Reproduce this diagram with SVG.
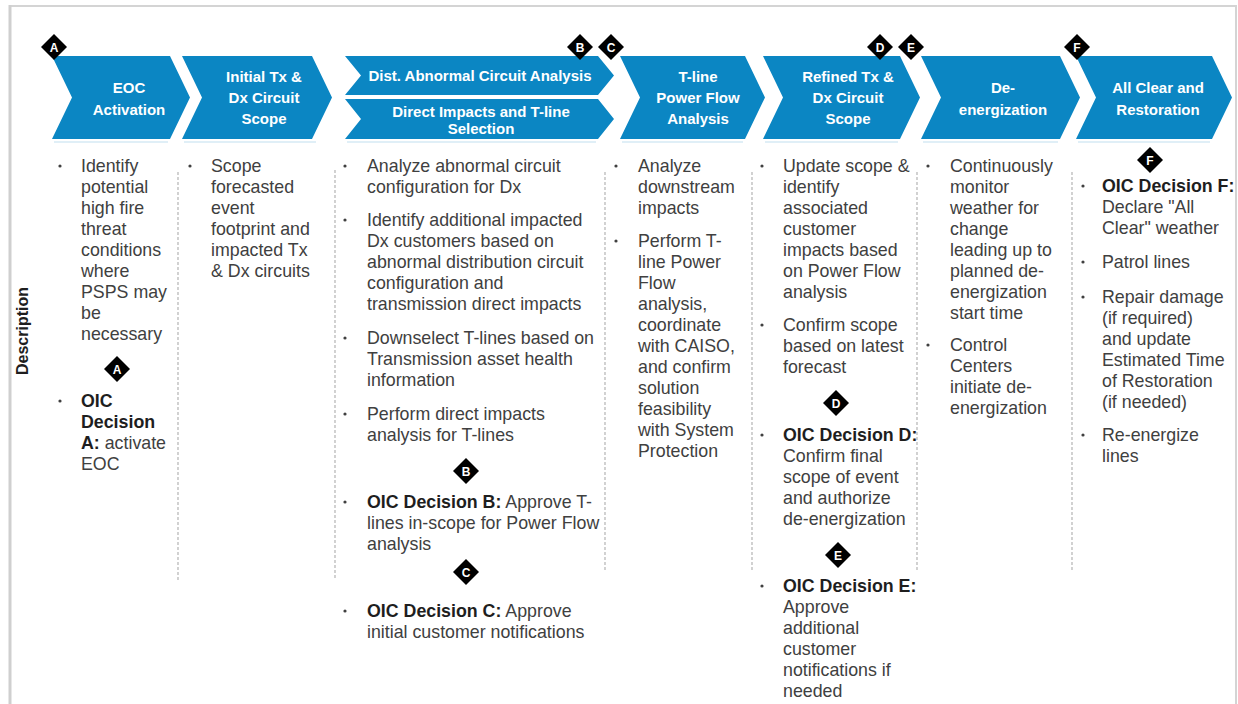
<svg xmlns="http://www.w3.org/2000/svg" width="1238" height="704" viewBox="0 0 1238 704">
<style>
.chev{fill:#0b86c3}
.ht{font-family:"Liberation Sans",Arial,sans-serif;font-weight:bold;font-size:15px;fill:#ffffff;text-anchor:middle}
.bt{font-family:"Liberation Sans",Arial,sans-serif;font-size:17.8px;fill:#404040}
.bd{font-weight:bold;fill:#1e1e1e}
.dl{font-family:"Liberation Sans",Arial,sans-serif;font-weight:bold;font-size:12px;fill:#ffffff;text-anchor:middle}
.sep{stroke:#b4b4b4;stroke-width:1.2;stroke-dasharray:3 2;fill:none}
.bul{fill:#404040}
.refl{stroke:#d6eaf5;stroke-width:1.5}
</style>
<defs>
<g id="dia"><polygon points="0,-13 13,0 0,13 -13,0" fill="#000"/></g>
</defs>
<rect x="0" y="0" width="1238" height="704" fill="#ffffff"/>
<g id="frame">
<line x1="10" y1="6" x2="1236" y2="6" stroke="#d4d4d4" stroke-width="2"/>
<line x1="10" y1="5" x2="10" y2="704" stroke="#cfcfcf" stroke-width="3"/>
<line x1="1236" y1="5" x2="1236" y2="704" stroke="#d4d4d4" stroke-width="2"/>
<text transform="translate(28,331) rotate(-90)" font-family="Liberation Sans,Arial,sans-serif" font-weight="bold" font-size="16" fill="#1e1e1e" text-anchor="middle">Description</text>
</g>

<g id="connectors">
<line class="sep" x1="178" y1="172" x2="178" y2="580"/>
<line class="sep" x1="335" y1="170" x2="335" y2="580"/>
<line class="sep" x1="605" y1="172" x2="605" y2="572"/>
<line class="sep" x1="752" y1="172" x2="752" y2="572"/>
<line class="sep" x1="917" y1="172" x2="917" y2="572"/>
<line class="sep" x1="1072" y1="172" x2="1072" y2="570"/>
</g>

<g id="step1">
<polygon class="chev" points="52,56 170,56 190,97.5 170,139 52,139 72,97.5"/>
<line class="refl" x1="54" y1="142" x2="168" y2="142"/>
<text class="ht" x="129" y="93">EOC</text>
<text class="ht" x="129" y="115">Activation</text>
<use href="#dia" x="54" y="47"/><text class="dl" x="54" y="51.5">A</text>
</g>

<g id="step2">
<polygon class="chev" points="182,56 312,56 332,97.5 312,139 182,139 202,97.5"/>
<line class="refl" x1="184" y1="142" x2="316" y2="142"/>
<text class="ht" x="264" y="82">Initial Tx &amp;</text>
<text class="ht" x="264" y="103">Dx Circuit</text>
<text class="ht" x="264" y="124">Scope</text>
</g>

<g id="step3a">
<polygon class="chev" points="345,56 598,56 614,75.5 598,95 345,95 361,75.5"/>
<text class="ht" x="480" y="81">Dist. Abnormal Circuit Analysis</text>
</g>
<g id="step3b">
<polygon class="chev" points="345,99 598,99 614,119 598,139 345,139 361,119"/>
<line class="refl" x1="347" y1="142" x2="596" y2="142"/>
<text class="ht" x="481" y="117">Direct Impacts and T-line</text>
<text class="ht" x="481" y="134">Selection</text>
<use href="#dia" x="580" y="47"/><text class="dl" x="580" y="51.5">B</text>
</g>

<g id="step4">
<polygon class="chev" points="620,56 745,56 765,97.5 745,139 620,139 640,97.5"/>
<line class="refl" x1="622" y1="142" x2="743" y2="142"/>
<text class="ht" x="698" y="82">T-line</text>
<text class="ht" x="698" y="103">Power Flow</text>
<text class="ht" x="698" y="124">Analysis</text>
<use href="#dia" x="611" y="47"/><text class="dl" x="611" y="51.5">C</text>
</g>

<g id="step5">
<polygon class="chev" points="763,56 900,56 920,97.5 900,139 763,139 783,97.5"/>
<line class="refl" x1="765" y1="142" x2="898" y2="142"/>
<text class="ht" x="848" y="82">Refined Tx &amp;</text>
<text class="ht" x="848" y="103">Dx Circuit</text>
<text class="ht" x="848" y="124">Scope</text>
<use href="#dia" x="880" y="47"/><text class="dl" x="880" y="51.5">D</text>
</g>

<g id="step6">
<polygon class="chev" points="921,56 1060,56 1080,97.5 1060,139 921,139 941,97.5"/>
<line class="refl" x1="923" y1="142" x2="1058" y2="142"/>
<text class="ht" x="1003" y="93">De-</text>
<text class="ht" x="1003" y="115">energization</text>
<use href="#dia" x="911" y="47"/><text class="dl" x="911" y="51.5">E</text>
</g>

<g id="step7">
<polygon class="chev" points="1076,56 1212,56 1232,97.5 1212,139 1076,139 1096,97.5"/>
<line class="refl" x1="1078" y1="142" x2="1210" y2="142"/>
<text class="ht" x="1158" y="93">All Clear and</text>
<text class="ht" x="1158" y="115">Restoration</text>
<use href="#dia" x="1077" y="47"/><text class="dl" x="1077" y="51.5">F</text>
</g>

<g id="desc1">
<circle class="bul" cx="60" cy="166" r="1.6"/>
<text class="bt" x="81" y="172">Identify</text>
<text class="bt" x="81" y="193">potential</text>
<text class="bt" x="81" y="214">high fire</text>
<text class="bt" x="81" y="235">threat</text>
<text class="bt" x="81" y="256">conditions</text>
<text class="bt" x="81" y="277">where</text>
<text class="bt" x="81" y="298">PSPS may</text>
<text class="bt" x="81" y="319">be</text>
<text class="bt" x="81" y="340">necessary</text>
<use href="#dia" x="117" y="369"/><text class="dl" x="117" y="373.5">A</text>
<circle class="bul" cx="60" cy="401" r="1.6"/>
<text class="bt bd" x="81" y="407">OIC</text>
<text class="bt bd" x="81" y="428">Decision</text>
<text class="bt" x="81" y="449"><tspan class="bd">A:</tspan> activate</text>
<text class="bt" x="81" y="470">EOC</text>
</g>

<g id="desc2">
<circle class="bul" cx="190" cy="166" r="1.6"/>
<text class="bt" x="211" y="172">Scope</text>
<text class="bt" x="211" y="193">forecasted</text>
<text class="bt" x="211" y="214">event</text>
<text class="bt" x="211" y="235">footprint and</text>
<text class="bt" x="211" y="256">impacted Tx</text>
<text class="bt" x="211" y="277">&amp; Dx circuits</text>
</g>

<g id="desc3">
<circle class="bul" cx="345" cy="166" r="1.6"/>
<text class="bt" x="367" y="172">Analyze abnormal circuit</text>
<text class="bt" x="367" y="193">configuration for Dx</text>
<circle class="bul" cx="345" cy="220" r="1.6"/>
<text class="bt" x="367" y="226">Identify additional impacted</text>
<text class="bt" x="367" y="247">Dx customers based on</text>
<text class="bt" x="367" y="268">abnormal distribution circuit</text>
<text class="bt" x="367" y="289">configuration and</text>
<text class="bt" x="367" y="310">transmission direct impacts</text>
<circle class="bul" cx="345" cy="338" r="1.6"/>
<text class="bt" x="367" y="344">Downselect T-lines based on</text>
<text class="bt" x="367" y="365">Transmission asset health</text>
<text class="bt" x="367" y="386">information</text>
<circle class="bul" cx="345" cy="414" r="1.6"/>
<text class="bt" x="367" y="420">Perform direct impacts</text>
<text class="bt" x="367" y="441">analysis for T-lines</text>
<use href="#dia" x="466" y="471"/><text class="dl" x="466" y="475.5">B</text>
<circle class="bul" cx="345" cy="502" r="1.6"/>
<text class="bt" x="367" y="508"><tspan class="bd">OIC Decision B:</tspan> Approve T-</text>
<text class="bt" x="367" y="529">lines in-scope for Power Flow</text>
<text class="bt" x="367" y="550">analysis</text>
<use href="#dia" x="466" y="572"/><text class="dl" x="466" y="576.5">C</text>
<circle class="bul" cx="345" cy="611" r="1.6"/>
<text class="bt" x="367" y="617"><tspan class="bd">OIC Decision C:</tspan> Approve</text>
<text class="bt" x="367" y="638">initial customer notifications</text>
</g>

<g id="desc4">
<circle class="bul" cx="616" cy="166" r="1.6"/>
<text class="bt" x="638" y="172">Analyze</text>
<text class="bt" x="638" y="193">downstream</text>
<text class="bt" x="638" y="214">impacts</text>
<circle class="bul" cx="616" cy="241" r="1.6"/>
<text class="bt" x="638" y="247">Perform T-</text>
<text class="bt" x="638" y="268">line Power</text>
<text class="bt" x="638" y="289">Flow</text>
<text class="bt" x="638" y="310">analysis,</text>
<text class="bt" x="638" y="331">coordinate</text>
<text class="bt" x="638" y="352">with CAISO,</text>
<text class="bt" x="638" y="373">and confirm</text>
<text class="bt" x="638" y="394">solution</text>
<text class="bt" x="638" y="415">feasibility</text>
<text class="bt" x="638" y="436">with System</text>
<text class="bt" x="638" y="457">Protection</text>
</g>

<g id="desc5">
<circle class="bul" cx="762" cy="166" r="1.6"/>
<text class="bt" x="783" y="172">Update scope &amp;</text>
<text class="bt" x="783" y="193">identify</text>
<text class="bt" x="783" y="214">associated</text>
<text class="bt" x="783" y="235">customer</text>
<text class="bt" x="783" y="256">impacts based</text>
<text class="bt" x="783" y="277">on Power Flow</text>
<text class="bt" x="783" y="298">analysis</text>
<circle class="bul" cx="762" cy="325" r="1.6"/>
<text class="bt" x="783" y="331">Confirm scope</text>
<text class="bt" x="783" y="352">based on latest</text>
<text class="bt" x="783" y="373">forecast</text>
<use href="#dia" x="836" y="403"/><text class="dl" x="836" y="407.5">D</text>
<circle class="bul" cx="762" cy="435" r="1.6"/>
<text class="bt bd" x="783" y="441">OIC Decision D:</text>
<text class="bt" x="783" y="462">Confirm final</text>
<text class="bt" x="783" y="483">scope of event</text>
<text class="bt" x="783" y="504">and authorize</text>
<text class="bt" x="783" y="525">de-energization</text>
<use href="#dia" x="838" y="555"/><text class="dl" x="838" y="559.5">E</text>
<circle class="bul" cx="762" cy="586" r="1.6"/>
<text class="bt bd" x="783" y="592">OIC Decision E:</text>
<text class="bt" x="783" y="613">Approve</text>
<text class="bt" x="783" y="634">additional</text>
<text class="bt" x="783" y="655">customer</text>
<text class="bt" x="783" y="676">notifications if</text>
<text class="bt" x="783" y="697">needed</text>
</g>

<g id="desc6">
<circle class="bul" cx="928" cy="166" r="1.6"/>
<text class="bt" x="950" y="172">Continuously</text>
<text class="bt" x="950" y="193">monitor</text>
<text class="bt" x="950" y="214">weather for</text>
<text class="bt" x="950" y="235">change</text>
<text class="bt" x="950" y="256">leading up to</text>
<text class="bt" x="950" y="277">planned de-</text>
<text class="bt" x="950" y="298">energization</text>
<text class="bt" x="950" y="319">start time</text>
<circle class="bul" cx="928" cy="345" r="1.6"/>
<text class="bt" x="950" y="351">Control</text>
<text class="bt" x="950" y="372">Centers</text>
<text class="bt" x="950" y="393">initiate de-</text>
<text class="bt" x="950" y="414">energization</text>
</g>

<g id="desc7">
<use href="#dia" x="1150" y="160"/><text class="dl" x="1150" y="164.5">F</text>
<circle class="bul" cx="1083" cy="186" r="1.6"/>
<text class="bt bd" x="1102" y="192">OIC Decision F:</text>
<text class="bt" x="1102" y="213">Declare "All</text>
<text class="bt" x="1102" y="234">Clear" weather</text>
<circle class="bul" cx="1083" cy="262" r="1.6"/>
<text class="bt" x="1102" y="268">Patrol lines</text>
<circle class="bul" cx="1083" cy="297" r="1.6"/>
<text class="bt" x="1102" y="303">Repair damage</text>
<text class="bt" x="1102" y="324">(if required)</text>
<text class="bt" x="1102" y="345">and update</text>
<text class="bt" x="1102" y="366">Estimated Time</text>
<text class="bt" x="1102" y="387">of Restoration</text>
<text class="bt" x="1102" y="408">(if needed)</text>
<circle class="bul" cx="1083" cy="435" r="1.6"/>
<text class="bt" x="1102" y="441">Re-energize</text>
<text class="bt" x="1102" y="462">lines</text>
</g>
</svg>
